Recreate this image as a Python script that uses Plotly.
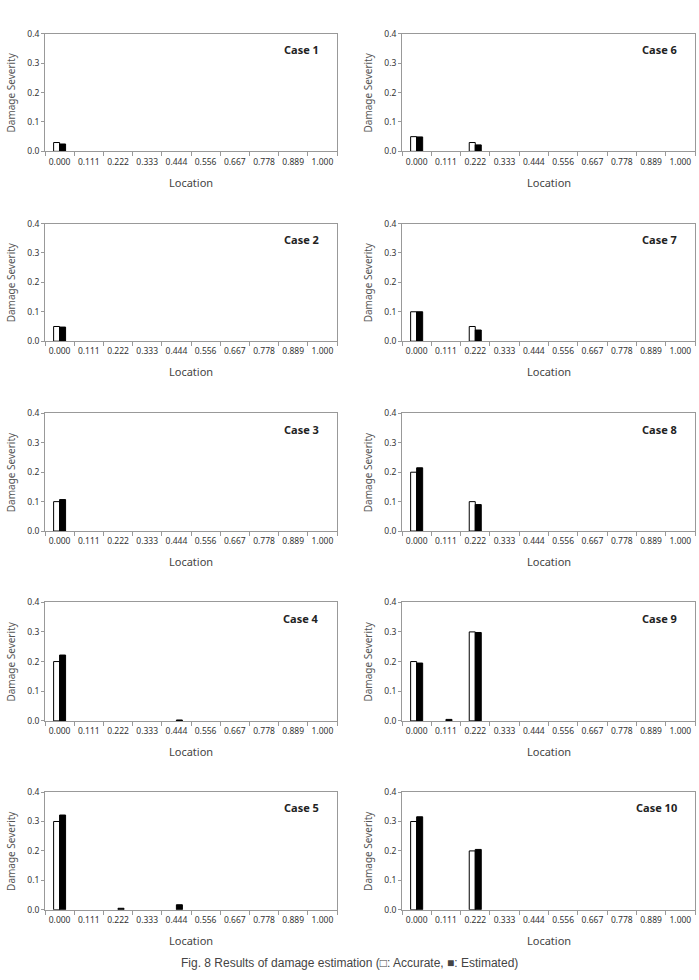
import plotly.graph_objects as go

locations = ["0.000", "0.111", "0.222", "0.333", "0.444", "0.556", "0.667", "0.778", "0.889", "1.000"]
y_ticks = [0.0, 0.1, 0.2, 0.3, 0.4]
y_tick_labels = ["0.0", "0.1", "0.2", "0.3", "0.4"]

case_names = ["Case 1", "Case 2", "Case 3", "Case 4", "Case 5",
              "Case 6", "Case 7", "Case 8", "Case 9", "Case 10"]

accurate_c1 = [0.03, 0, 0, 0, 0, 0, 0, 0, 0, 0]
estimated_c1 = [0.025, 0, 0, 0, 0, 0, 0, 0, 0, 0]
accurate_c2 = [0.05, 0, 0, 0, 0, 0, 0, 0, 0, 0]
estimated_c2 = [0.048, 0, 0, 0, 0, 0, 0, 0, 0, 0]
accurate_c3 = [0.10, 0, 0, 0, 0, 0, 0, 0, 0, 0]
estimated_c3 = [0.107, 0, 0, 0, 0, 0, 0, 0, 0, 0]
accurate_c4 = [0.20, 0, 0, 0, 0, 0, 0, 0, 0, 0]
estimated_c4 = [0.222, 0, 0, 0, 0.003, 0, 0, 0, 0, 0]
accurate_c5 = [0.30, 0, 0, 0, 0, 0, 0, 0, 0, 0]
estimated_c5 = [0.322, 0, 0.005, 0, 0.017, 0, 0, 0, 0, 0]
accurate_c6 = [0.05, 0, 0.03, 0, 0, 0, 0, 0, 0, 0]
estimated_c6 = [0.049, 0, 0.022, 0, 0, 0, 0, 0, 0, 0]
accurate_c7 = [0.10, 0, 0.05, 0, 0, 0, 0, 0, 0, 0]
estimated_c7 = [0.10, 0, 0.038, 0, 0, 0, 0, 0, 0, 0]
accurate_c8 = [0.20, 0, 0.10, 0, 0, 0, 0, 0, 0, 0]
estimated_c8 = [0.215, 0, 0.09, 0, 0, 0, 0, 0, 0, 0]
accurate_c9 = [0.20, 0, 0.30, 0, 0, 0, 0, 0, 0, 0]
estimated_c9 = [0.195, 0.005, 0.298, 0, 0, 0, 0, 0, 0, 0]
accurate_c10 = [0.30, 0, 0.20, 0, 0, 0, 0, 0, 0, 0]
estimated_c10 = [0.316, 0, 0.205, 0, 0, 0, 0, 0, 0, 0]

accurate = [accurate_c1, accurate_c2, accurate_c3, accurate_c4, accurate_c5,
            accurate_c6, accurate_c7, accurate_c8, accurate_c9, accurate_c10]
estimated = [estimated_c1, estimated_c2, estimated_c3, estimated_c4, estimated_c5,
             estimated_c6, estimated_c7, estimated_c8, estimated_c9, estimated_c10]

W, H = 699, 980
col_x = [(45, 337), (402, 695)]
row_y = [(28, 147), (220, 339), (412, 531), (603, 723), (795, 914)]

fig = go.Figure()
layout = dict(
    width=W, height=H, margin=dict(l=0, r=0, t=0, b=0),
    paper_bgcolor="white", plot_bgcolor="white",
    showlegend=False, barmode="group", bargap=0.59, bargroupgap=0,
)
annotations = []
tick_font = dict(family="Noto Sans", size=8.5, color="#333333")


def line_widths(vals):
    return [1 if v > 0 else 0 for v in vals]


for i in range(10):
    col = i // 5
    row = i % 5
    n = i + 1
    xa = "x" if n == 1 else f"x{n}"
    ya = "y" if n == 1 else f"y{n}"
    x0, x1 = col_x[col]
    yt, yb = row_y[row]
    fig.add_trace(go.Bar(x=locations, y=accurate[i], xaxis=xa, yaxis=ya,
                         marker=dict(color="white",
                                     line=dict(color="black", width=line_widths(accurate[i]))),
                         name="Accurate"))
    fig.add_trace(go.Bar(x=locations, y=estimated[i], xaxis=xa, yaxis=ya,
                         marker=dict(color="black",
                                     line=dict(color="black", width=line_widths(estimated[i]))),
                         name="Estimated"))
    layout[f"xaxis{'' if n == 1 else n}"] = dict(
        domain=[x0 / W, x1 / W], anchor=ya, type="category",
        tickson="boundaries", ticks="outside", ticklen=4, tickcolor="#999999",
        showline=True, linecolor="#999999", linewidth=1, mirror=True,
        showgrid=False, tickfont=tick_font, tickangle=0, fixedrange=True,
        ticklabelstandoff=2,
    )
    layout[f"yaxis{'' if n == 1 else n}"] = dict(
        domain=[1 - yb / H, 1 - yt / H], anchor=xa, range=[0, 0.4],
        tickvals=y_ticks, ticktext=y_tick_labels, ticks="outside", ticklen=3,
        tickcolor="#999999", showline=True, linecolor="#999999", linewidth=1,
        mirror=True, showgrid=False, zeroline=False, tickfont=tick_font,
        fixedrange=True,
    )
    annotations.append(dict(
        text="<b>" + case_names[i] + "</b>", xref="paper", yref="paper",
        x=(x1 - 16) / W, y=1 - (yt + 16) / H, xanchor="right", yanchor="middle",
        showarrow=False, font=dict(family="Noto Sans", size=11, color="#222222")))
    annotations.append(dict(
        text="Location", xref="paper", yref="paper",
        x=(x0 + x1) / 2 / W, y=1 - (yb + 31) / H, xanchor="center", yanchor="middle",
        showarrow=False, font=dict(family="Noto Sans", size=11, color="#444444")))
    annotations.append(dict(
        text="Damage Severity", xref="paper", yref="paper",
        x=(x0 - 34) / W, y=1 - (yt + yb) / 2 / H, xanchor="center", yanchor="middle",
        textangle=-90, showarrow=False,
        font=dict(family="Noto Sans", size=10, color="#555555")))

annotations.append(dict(
    text="Fig. 8 Results of damage estimation (□: Accurate, ■: Estimated)",
    xref="paper", yref="paper", x=349 / W, y=1 - 968 / H,
    xanchor="center", yanchor="middle", showarrow=False,
    font=dict(family="Liberation Sans", size=12, color="#444444")))

layout["annotations"] = annotations
fig.update_layout(**layout)
fig.write_html("out.html")
